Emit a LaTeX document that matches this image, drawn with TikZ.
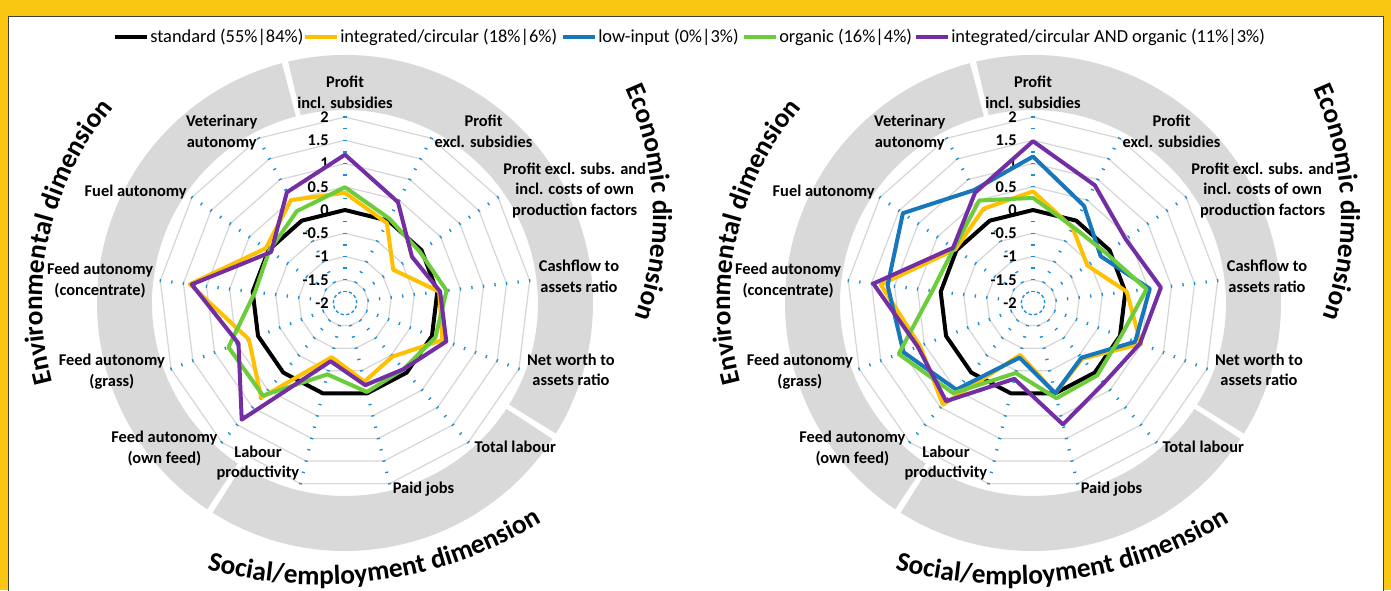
\documentclass[tikz,border=0pt]{standalone}
\usepackage{fontspec}
\setmainfont{Carlito}
\usetikzlibrary{calc, positioning, decorations.text}

\definecolor{frameyellow}{RGB}{249,199,18}
\definecolor{bandgray}{RGB}{217,217,217}
\definecolor{ringgray}{RGB}{214,214,214}
\definecolor{spokeblue}{RGB}{28,142,214}
\definecolor{stdblack}{RGB}{0,0,0}
\definecolor{intyellow}{RGB}{255,192,0}
\definecolor{lowblue}{RGB}{24,118,186}
\definecolor{orggreen}{RGB}{108,204,58}
\definecolor{bothpurple}{RGB}{116,46,164}

\newcommand{\lblfont}{\fontsize{12.3}{15.5}\selectfont\bfseries}
\newcommand{\dimfont}{\fontsize{20.5}{24}\selectfont\bfseries}

\begin{document}
\begin{tikzpicture}[x=0.75pt, y=0.75pt,
    band/.style={fill=bandgray},
    ring/.style={draw=ringgray, line width=0.9pt},
    spoke/.style={draw=spokeblue, line width=2.4pt, dash pattern=on 1pt off 7.72pt},
    ticklabel/.style={font=\lblfont, anchor=east, inner sep=0pt},
    axislabel/.style={font=\lblfont, align=center, inner sep=0pt},
    legtext/.style={font=\fontsize{13.8}{16}\selectfont, anchor=west, inner sep=0pt},
    legline/.style={line width=3pt},
    series/.style={line width=3pt, line join=round},
    dimtext/.style={decorate, decoration={text along path, text align=center,
        text={|\dimfont|#1}}}]
    % \draw [help lines] (0,0) grid (1391,-590);
    \useasboundingbox (0,0) rectangle (1391,-590);
    \fill[frameyellow] (0,0) rectangle (1391,-590);
    \filldraw[fill=white, draw=black!75, line width=0.6pt] (8,-16) rectangle (1383,-600);

    % legend
    \node (lgstd) [legtext] at (150,-37) {standard (55\%|84\%)};
    \node (lgint) [legtext] at (340,-37) {integrated/circular (18\%|6\%)};
    \node (lglow) [legtext] at (598,-37) {low-input (0\%|3\%)};
    \node (lgorg) [legtext] at (779,-37) {organic (16\%|4\%)};
    \node (lgboth) [legtext] at (951,-37) {integrated/circular AND organic (11\%|3\%)};
    \draw[legline, stdblack] ([xshift=-26pt]lgstd.west) -- ([xshift=-2pt]lgstd.west);
    \draw[legline, intyellow] ([xshift=-26pt]lgint.west) -- ([xshift=-2pt]lgint.west);
    \draw[legline, lowblue] ([xshift=-26pt]lglow.west) -- ([xshift=-2pt]lglow.west);
    \draw[legline, orggreen] ([xshift=-26pt]lgorg.west) -- ([xshift=-2pt]lgorg.west);
    \draw[legline, bothpurple] ([xshift=-26pt]lgboth.west) -- ([xshift=-2pt]lgboth.west);

    % both radar frames
    \foreach \cx/\nm in {345/L, 1033/R} {
        \coordinate (c\nm) at (\cx,-303);
        % dimension bands
        \fill[band] ($(c\nm)+(104.75:193)$) arc[start angle=104.75, end angle=236.25, radius=193]
            -- ($(c\nm)+(236.25:248)$) arc[start angle=236.25, end angle=104.75, radius=248] -- cycle;
        \fill[band] ($(c\nm)+(237.75:193)$) arc[start angle=237.75, end angle=326.75, radius=193]
            -- ($(c\nm)+(326.75:248)$) arc[start angle=326.75, end angle=237.75, radius=248] -- cycle;
        \fill[band] ($(c\nm)+(-31.75:193)$) arc[start angle=-31.75, end angle=103.25, radius=193]
            -- ($(c\nm)+(103.25:248)$) arc[start angle=103.25, end angle=-31.75, radius=248] -- cycle;
        % grid
        \foreach \n in {1,...,8}
            \draw[ring] ($(c\nm)+(90:{23.25*\n})$)
                \foreach \k in {1,...,12}{-- ($(c\nm)+({90-\k*360/13}:{23.25*\n})$)} -- cycle;
        \foreach \k in {0,...,12}
            \draw[spoke] ($(c\nm)+({90-\k*360/13}:10.96)$) -- ($(c\nm)+({90-\k*360/13}:186.7)$);
        \foreach \v [count=\n from 0] in {-2,-1.5,-1,-0.5,0,0.5,1,1.5,2}
            \node (tk\nm\n) [ticklabel] at ($(c\nm)+(-16,{23.25*\n})$) {\v};
        % axis labels
        \foreach \k/\anc/\dx/\dy/\txt in {
            0/south/0/8/{Profit\\incl. subsidies},
            1/west/3/7/{Profit\\excl. subsidies},
            2/west/5/7/{Profit excl. subs. and\\incl. costs of own\\production factors},
            3/west/9/4/{Cashflow to\\assets ratio},
            4/west/8/-1/{Net worth to\\assets ratio},
            5/west/6/-5/{Total labour},
            6/west/3/-6/{Paid jobs},
            7/south east/-1/3/{Labour\\productivity},
            8/east/-4/-6/{Feed autonomy\\(own feed)},
            9/east/-6/-3/{Feed autonomy\\(grass)},
            10/east/-7/0/{Feed autonomy\\(concentrate)},
            11/east/-5/5/{Fuel autonomy},
            12/east/-1/6/{Veterinary\\autonomy}}
            \node (ax\nm\k) [axislabel, anchor=\anc] at ($(c\nm)+({90-\k*360/13}:186)+(\dx,\dy)$) {\txt};
        % dimension names
        \path[dimtext={Environmental dimension}] ($(c\nm)+(215:303)$)
            arc[start angle=215, end angle=120, radius=303];
        \path[dimtext={Economic dimension}] ($(c\nm)+(8,88)+(40:300)$)
            arc[start angle=40, end angle=-35, radius=300];
        \path[dimtext={Social/employment dimension}] ($(c\nm)+(-25,145.5)+(-130:427)$)
            arc[start angle=-130, end angle=-34, radius=427];
    }

    % left chart series
    \foreach \v [count=\k from 0] in {0,0,0,0,0,0,0,0,0,0,0,0,0}
        \coordinate (Ls\k) at ($(cL)+({90-\k*360/13}:{(\v+2)*46.5})$);
    \foreach \v [count=\k from 0] in {0.37,-0.06,-0.74,0.04,0.24,-0.46,-0.26,-0.8,0.72,0.21,1.36,0.07,0.5}
        \coordinate (Ly\k) at ($(cL)+({90-\k*360/13}:{(\v+2)*46.5})$);
    \foreach \v [count=\k from 0] in {0.49,0.05,-0.05,0.2,0.08,-0.1,-0.03,-0.42,0.66,0.68,-0.05,-0.02,0.23}
        \coordinate (Lg\k) at ($(cL)+({90-\k*360/13}:{(\v+2)*46.5})$);
    \foreach \v [count=\k from 0] in {1.19,0.45,-0.25,0.06,0.33,-0.1,-0.18,-0.71,1.35,0.45,1.32,-0.07,0.69}
        \coordinate (Lp\k) at ($(cL)+({90-\k*360/13}:{(\v+2)*46.5})$);
    \draw[series, stdblack] (Ls0) \foreach \k in {1,...,12}{-- (Ls\k)} -- cycle;
    \draw[series, intyellow] (Ly0) \foreach \k in {1,...,12}{-- (Ly\k)} -- cycle;
    \draw[series, orggreen] (Lg0) \foreach \k in {1,...,12}{-- (Lg\k)} -- cycle;
    \draw[series, bothpurple] (Lp0) \foreach \k in {1,...,12}{-- (Lp\k)} -- cycle;

    % right chart series
    \foreach \v [count=\k from 0] in {0,0,0,0,0,0,0,0,0,0,0,0,0}
        \coordinate (Rs\k) at ($(cR)+({90-\k*360/13}:{(\v+2)*46.5})$);
    \foreach \v [count=\k from 0] in {0.4,-0.17,-0.58,0.03,0.48,-0.4,0,-0.85,0.92,0.6,1.3,0.03,0.29}
        \coordinate (Ry\k) at ($(cR)+({90-\k*360/13}:{(\v+2)*46.5})$);
    \foreach \v [count=\k from 0] in {1.15,0.36,-0.23,0.53,0.35,-0.43,0,-0.79,0.49,0.98,1.15,1.4,0.74}
        \coordinate (Rb\k) at ($(cR)+({90-\k*360/13}:{(\v+2)*46.5})$);
    \foreach \v [count=\k from 0] in {0.26,-0.15,-0.1,0.46,0.02,0.08,0.11,-0.45,0.59,1.09,0.18,0.07,0.49}
        \coordinate (Rg\k) at ($(cR)+({90-\k*360/13}:{(\v+2)*46.5})$);
    \foreach \v [count=\k from 0] in {1.48,0.86,0.42,0.77,0.46,0.3,0.69,-0.32,0.82,0.65,1.46,0.09,0.68}
        \coordinate (Rp\k) at ($(cR)+({90-\k*360/13}:{(\v+2)*46.5})$);
    \draw[series, stdblack] (Rs0) \foreach \k in {1,...,12}{-- (Rs\k)} -- cycle;
    \draw[series, intyellow] (Ry0) \foreach \k in {1,...,12}{-- (Ry\k)} -- cycle;
    \draw[series, lowblue] (Rb0) \foreach \k in {1,...,12}{-- (Rb\k)} -- cycle;
    \draw[series, orggreen] (Rg0) \foreach \k in {1,...,12}{-- (Rg\k)} -- cycle;
    \draw[series, bothpurple] (Rp0) \foreach \k in {1,...,12}{-- (Rp\k)} -- cycle;
\end{tikzpicture}
\end{document}
